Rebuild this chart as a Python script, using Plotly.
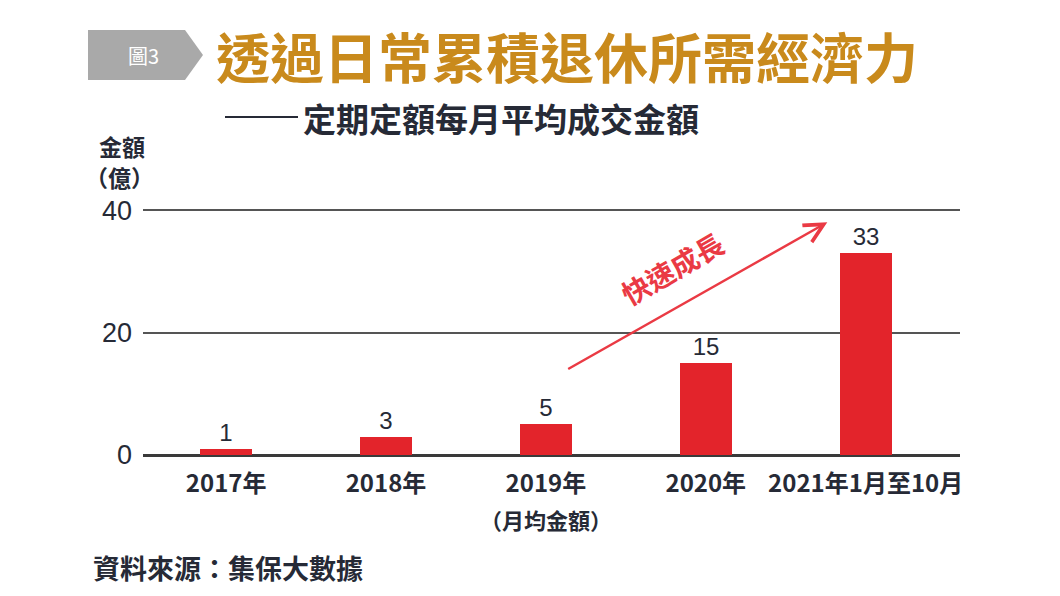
import plotly.graph_objects as go

# ---------------------------
# Data
# ---------------------------
categories = ["2017年", "2018年", "2019年", "2020年", "2021年1月至10月"]
amounts = [1, 3, 5, 15, 33]
y_ticks = [0, 20, 40]

TITLE = "透過日常累積退休所需經濟力"
SUBTITLE = "定期定額每月平均成交金額"
NOTE_2019 = "（月均金額）"
SOURCE = "資料來源：集保大數據"

FONT = "Noto Sans CJK TC"
RED = "#e3242b"
DARK = "#262a36"

# page is 1060x596, the html body adds an 8px margin
OFF = 8
W, H = 1060 - 2 * OFF, 596 - 2 * OFF
# plot area edges in page pixels
X0, X1 = 143, 960
Y_BOT, Y_TOP = 455, 207   # y=0 and y=40.5
L, R = X0 - OFF, W - (X1 - OFF)
T, B = Y_TOP - OFF, H - (Y_BOT - OFF)
PW, PH = X1 - X0, Y_BOT - Y_TOP


def px(x):
    return (x - X0) / PW


def py(y):
    return (Y_BOT - y) / PH


def label(x, y, text, size, color=DARK, xanchor="center", angle=0):
    fig.add_annotation(
        xref="paper", yref="paper", x=px(x), y=py(y),
        xanchor=xanchor, yanchor="middle", text=text, showarrow=False,
        textangle=angle, font=dict(family=FONT, size=size, color=color),
    )


fig = go.Figure()
fig.add_trace(go.Bar(
    x=list(range(len(categories))),
    y=amounts,
    width=0.325,
    marker=dict(color=RED, line=dict(width=0)),
    text=[str(v) for v in amounts],
    textposition="outside",
    textfont=dict(family="Liberation Sans", size=24, color=DARK),
    cliponaxis=False,
    hoverinfo="skip",
))

fig.update_layout(
    width=W, height=H,
    margin=dict(l=L, r=R, t=T, b=B, pad=0),
    paper_bgcolor="white",
    plot_bgcolor="white",
    showlegend=False,
    font=dict(family=FONT, color=DARK),
    bargap=0,
)

fig.update_xaxes(
    tickmode="array",
    tickvals=list(range(len(categories))),
    ticktext=[f"<b>{c}</b>" for c in categories],
    range=[-0.52, 4.59],
    showgrid=False,
    zeroline=False,
    showline=False,
    ticks="",
    ticklabelstandoff=12,
    tickfont=dict(family=FONT, size=24, color=DARK),
)
fig.update_yaxes(
    range=[0, 40.5],
    tickvals=y_ticks,
    showgrid=True,
    gridcolor="#555555",
    gridwidth=2,
    zeroline=True,
    zerolinecolor="#3a3a3a",
    zerolinewidth=2.5,
    showline=False,
    ticks="",
    ticklabelstandoff=10,
    tickfont=dict(family="Liberation Sans", size=27, color=DARK),
)

# grey tag with 圖3
fig.add_shape(
    type="path", xref="paper", yref="paper",
    path=f"M {px(88)},{py(30)} L {px(185)},{py(30)} L {px(203)},{py(55)} "
         f"L {px(185)},{py(80)} L {px(88)},{py(80)} Z",
    fillcolor="#a9a9a9", line=dict(width=0),
)
label(143, 55, "圖3", 20, color="white")

# main title
label(214, 55, f"<b>{TITLE}</b>", 54, color="#c98a1c", xanchor="left")

# subtitle with dash
fig.add_shape(
    type="line", xref="paper", yref="paper",
    x0=px(225), x1=px(298), y0=py(117), y1=py(117),
    line=dict(color=DARK, width=2),
)
label(301, 118, f"<b>{SUBTITLE}</b>", 33, xanchor="left")

# y axis unit
label(122, 146, "<b>金額</b>", 23)
label(119, 177, "<b>（億）</b>", 23)

# second line under 2019
label(546, 519, f"<b>{NOTE_2019}</b>", 22)

# growth arrow
fig.add_annotation(
    xref="x", yref="y", axref="x", ayref="y",
    x=3.76, y=38.0, ax=2.13, ay=13.9,
    text="", showarrow=True,
    arrowhead=5, arrowsize=1.5, arrowwidth=2.5, arrowcolor="#ea3a44",
)
label(672, 268, "<b>快速成長</b>", 28, color="#ea3a44", angle=-30)

# source
label(91, 567, f"<b>{SOURCE}</b>", 27, xanchor="left")

fig.write_html("out.html")
